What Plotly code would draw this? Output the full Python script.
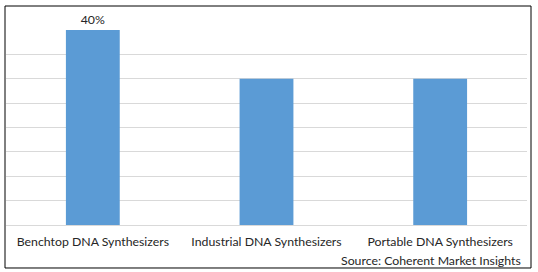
import plotly.graph_objects as go

categories = ["Benchtop DNA Synthesizers", "Industrial DNA Synthesizers", "Portable DNA Synthesizers"]
values = [40, 30, 30]
labels = ["40%", "", ""]
source_text = "Source: Coherent Market Insights"

font_family = "Lato, 'Open Sans', sans-serif"
text_color = "#262626"

fig = go.Figure(go.Bar(
    x=categories, y=values, text=labels, textposition="outside",
    textfont=dict(family=font_family, size=12.3, color=text_color),
    marker=dict(color="#5B9BD5", line=dict(width=0)),
    cliponaxis=False, width=0.31,
))

fig.update_layout(
    width=538, height=272,
    margin=dict(l=6, r=11, t=30, b=47),
    paper_bgcolor="white", plot_bgcolor="white",
    showlegend=False,
    xaxis=dict(showgrid=False, showline=False, ticks="", zeroline=False,
               tickfont=dict(family=font_family, size=12.3, color=text_color),
               ticklabelstandoff=8),
    yaxis=dict(range=[0, 40], dtick=5, showgrid=True, gridcolor="#D9D9D9", gridwidth=1,
               showticklabels=False, zeroline=True, zerolinecolor="#D9D9D9", zerolinewidth=1,
               showline=False),
    shapes=[dict(type="rect", xref="paper", yref="paper",
                 x0=-0.0019, x1=1.0077, y0=-0.2205, y1=1.123,
                 line=dict(color="black", width=1), fillcolor="rgba(0,0,0,0)", layer="above")],
    annotations=[dict(text=source_text, xref="paper", yref="paper", x=0.992, y=-0.18,
                      xanchor="right", yanchor="middle", showarrow=False,
                      font=dict(family=font_family, size=12.3, color=text_color))],
)

fig.write_html("out.html")
